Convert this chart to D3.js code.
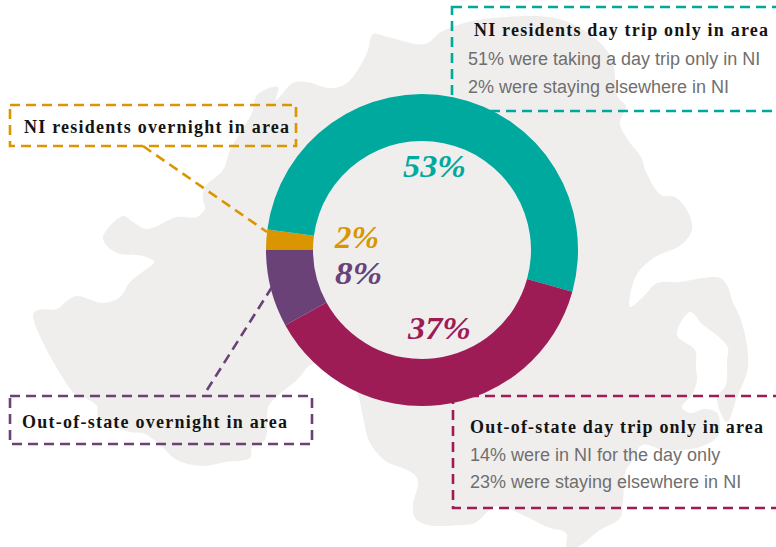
<!DOCTYPE html>
<html>
<head>
<meta charset="utf-8">
<script src="https://cdnjs.cloudflare.com/ajax/libs/d3/7.8.5/d3.min.js"></script>
<style>
html,body{margin:0;padding:0;background:#fff;overflow:hidden}
svg{display:block}
.title{font-family:"Liberation Serif",serif;font-weight:700;font-size:18px;fill:#141414}
.sub{font-family:"Liberation Sans",Arial,sans-serif;font-size:18px;fill:#6f6f6f}
.pct{font-family:"Liberation Serif",serif;font-weight:700;font-style:italic;font-size:31px}
</style>
</head>
<body>
<div id="chart"></div>
<script>
// Data
const categories = ["NI residents overnight in area","NI residents day trip only in area","Out-of-state day trip only in area","Out-of-state overnight in area"];
const sliceValues = [2.1, 52.2, 37.7, 8.0];
const sliceLabels = ["2%","53%","37%","8%"];
const sliceColors = ["#d99600","#00a99d","#9e1c56","#6b4278"];
const detailLines = [[],["51% were taking a day trip only in NI","2% were staying elsewhere in NI"],["14% were in NI for the day only","23% were staying elsewhere in NI"],[]];

// Backdrop silhouette of Northern Ireland (decorative outline, page pixels)
const mapOutline = [[373,34],[388,37],[425,44],[441,32],[468,22],[505,17],[555,18],[588,33],[611,57],[618,97],[626,106],[620,123],[628,140],[641,157],[646,172],[661,195],[675,197],[688,212],[692,230],[681,245],[655,257],[640,270],[633,283],[630,307],[643,297],[657,283],[680,282],[703,278],[720,278],[728,287],[732,300],[742,323],[748,367],[737,397],[727,422],[717,398],[726,385],[727,360],[728,348],[720,338],[703,325],[690,312],[677,335],[695,350],[696,368],[697,380],[692,395],[682,407],[690,413],[705,409],[717,413],[720,427],[717,437],[700,447],[665,450],[642,445],[633,460],[626,470],[623,500],[620,518],[600,530],[577,547],[567,547],[566,533],[547,527],[527,517],[503,507],[493,507],[487,512],[475,523],[460,525],[427,525],[415,518],[413,505],[418,483],[415,475],[400,467],[387,462],[370,443],[363,417],[358,395],[345,375],[313,364],[297,380],[273,400],[268,408],[265,440],[252,447],[250,458],[225,462],[203,466],[177,460],[158,443],[143,433],[130,432],[98,417],[97,406],[85,398],[75,394],[33,315],[38,310],[57,309],[68,300],[77,296],[103,303],[120,297],[130,282],[145,270],[154,262],[143,256],[120,254],[108,247],[103,237],[123,216],[133,222],[147,229],[177,217],[197,217],[205,208],[203,200],[205,187],[223,170],[230,150],[240,133],[252,113],[257,95],[278,87],[276,100],[293,83],[307,82],[330,88],[347,83],[367,53]];

const width = 776, height = 547;
const cx = 422, cy = 250, outerR = 156, innerR = 109;

const svg = d3.select("#chart").append("svg").attr("width",width).attr("height",height);

// Map
svg.append("path")
  .attr("d", d3.line().curve(d3.curveCatmullRomClosed.alpha(0.5))(mapOutline))
  .attr("fill","#efeeed");

// Callout boxes: [category index, x, y, w, h]
const boxes = [
  {i:0,x:10,y:105,w:286,h:41},
  {i:1,x:452,y:7,w:340,h:104},
  {i:2,x:453,y:396,w:340,h:112},
  {i:3,x:10,y:396,w:302,h:48}
];
const dash = "10 6";
svg.selectAll("rect.box").data(boxes).join("rect")
  .attr("class","box")
  .attr("x",d=>d.x).attr("y",d=>d.y).attr("width",d=>d.w).attr("height",d=>d.h)
  .attr("fill","none").attr("stroke",d=>sliceColors[d.i])
  .attr("stroke-width",2.6).attr("stroke-dasharray",dash);

// Leaders
const leaders = [
  {i:0,x1:143,y1:146,x2:267,y2:232},
  {i:3,x1:272,y1:287,x2:207,y2:390}
];
svg.selectAll("line.leader").data(leaders).join("line")
  .attr("class","leader")
  .attr("x1",d=>d.x1).attr("y1",d=>d.y1).attr("x2",d=>d.x2).attr("y2",d=>d.y2)
  .attr("stroke",d=>sliceColors[d.i]).attr("stroke-width",2.6).attr("stroke-dasharray",dash);

// Donut
const pie = d3.pie().sort(null).startAngle(1.5*Math.PI).endAngle(3.5*Math.PI);
const arc = d3.arc().innerRadius(innerR).outerRadius(outerR);
svg.append("g").attr("transform",`translate(${cx},${cy})`)
  .selectAll("path").data(pie(sliceValues)).join("path")
  .attr("d",arc).attr("fill",(d,i)=>sliceColors[i]);

// Percent labels
const pctPos = [{x:335,y:248,w:44},{x:403,y:177,w:63},{x:408,y:339,w:63},{x:335,y:284,w:47}];
svg.selectAll("text.pct").data(sliceLabels).join("text")
  .attr("class","pct")
  .attr("x",(d,i)=>pctPos[i].x).attr("y",(d,i)=>pctPos[i].y)
  .attr("textLength",(d,i)=>pctPos[i].w).attr("lengthAdjust","spacingAndGlyphs")
  .attr("fill",(d,i)=>sliceColors[i]).text(d=>d);

// Titles
const titlePos = [{x:24,y:133,w:265},{x:474,y:36,w:294},{x:470,y:433,w:293},{x:22,y:428,w:265}];
svg.selectAll("text.title").data(categories).join("text")
  .attr("class","title")
  .attr("x",(d,i)=>titlePos[i].x).attr("y",(d,i)=>titlePos[i].y)
  .attr("textLength",(d,i)=>titlePos[i].w).attr("lengthAdjust","spacing")
  .text(d=>d);

// Detail lines
const subPos = {1:{x:468,y:[65,93]},2:{x:470,y:[461,488]}};
detailLines.forEach((lines,i)=>{
  lines.forEach((t,j)=>{
    svg.append("text").attr("class","sub")
      .attr("x",subPos[i].x).attr("y",subPos[i].y[j]).text(t);
  });
});
</script>
</body>
</html>
